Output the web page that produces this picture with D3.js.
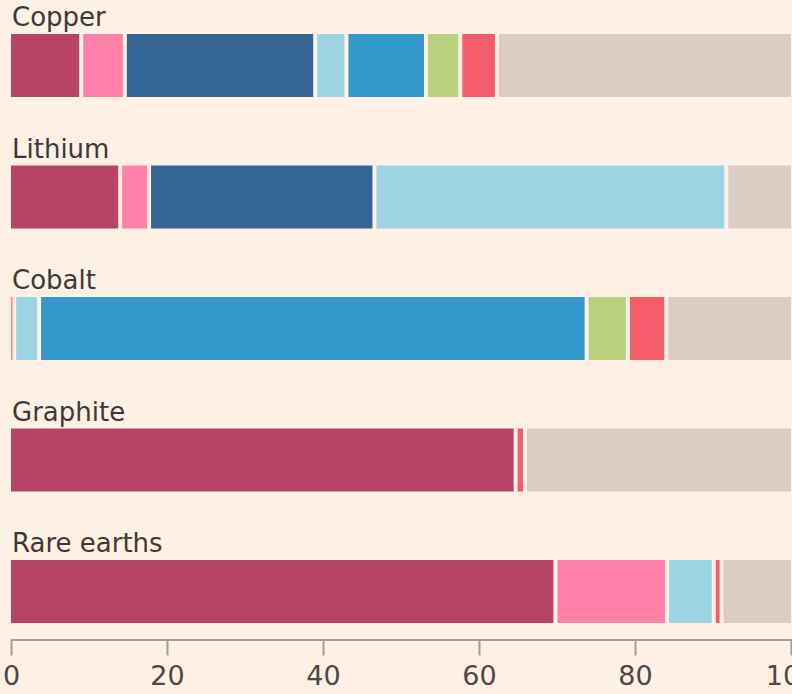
<!DOCTYPE html>
<html>
<head>
<meta charset="utf-8">
<script src="https://cdn.jsdelivr.net/npm/d3@7"></script>
<style>
  html, body { margin: 0; padding: 0; background: #fff1e5; }
  svg { display: block; }
</style>
</head>
<body>
<script>
var WIDTH = 792, HEIGHT = 694;

// minerals, top to bottom
var minerals = ["Copper", "Lithium", "Cobalt", "Graphite", "Rare earths"];

// share of production (%) per producer, same order as minerals
var producers = ["China", "US", "Chile", "Australia", "DR Congo", "Indonesia", "Russia", "Other"];
var china     = [9.0, 14.0, 0,    64.7, 69.8];
var us        = [5.6, 3.7,  0.4,  0,    14.3];
var chile     = [24.4, 28.9, 0,   0,    0];
var australia = [4.0, 45.1, 3.2,  0,    6.0];
var drCongo   = [10.2, 0,   70.2, 0,    0];
var indonesia = [4.4, 0,    5.3,  0,    0];
var russia    = [4.7, 0,    4.9,  1.2,  1.0];
var other     = [37.7, 8.3, 16.0, 34.1, 8.9];

var colours = ["#b74467", "#ff80a8", "#356593", "#9dd4e3", "#3498cd", "#b9d17f", "#f55d6a", "#dbcdc3"];
var xTicks = [0, 20, 40, 60, 80, 100];

var seriesValues = [china, us, chile, australia, drCongo, indonesia, russia, other];

// build rows for the stack
var rows = minerals.map(function(m, i) {
  var row = { mineral: m };
  producers.forEach(function(p, j) { row[p] = seriesValues[j][i]; });
  return row;
});

var stacked = d3.stack().keys(producers)(rows);

var x = d3.scaleLinear().domain([0, 100]).range([11, 791]);
var y = d3.scaleBand().domain(minerals).range([34, 34 + 131.5 * minerals.length]);
var BAR_H = 63;
var GAP = 2; // half of the gap between segments
var FONT = "'DejaVu Sans', Verdana, sans-serif";

var svg = d3.select("body").append("svg")
  .attr("width", WIDTH)
  .attr("height", HEIGHT);

var colour = d3.scaleOrdinal().domain(producers).range(colours);

svg.selectAll("g.layer")
  .data(stacked)
  .enter().append("g")
  .attr("class", "layer")
  .attr("fill", function(d) { return colour(d.key); })
  .selectAll("rect")
  .data(function(d) { return d.filter(function(s) { return s[1] - s[0] > 0; }); })
  .enter().append("rect")
  .attr("x", function(d) { return x(d[0]) + (d[0] > 0 ? GAP : 0); })
  .attr("y", function(d) { return y(d.data.mineral); })
  .attr("height", BAR_H)
  .attr("width", function(d) {
    var x0 = x(d[0]) + (d[0] > 0 ? GAP : 0);
    var x1 = x(d[1]) - (d[1] < 99.95 ? GAP : 0);
    return Math.max(x1 - x0, 1.6);
  });

// mineral labels above each bar
svg.selectAll("text.label")
  .data(minerals)
  .enter().append("text")
  .attr("class", "label")
  .attr("x", 12)
  .attr("y", function(d) { return y(d) - 8; })
  .style("font-family", FONT)
  .style("font-size", "26px")
  .style("fill", "#3d3936")
  .text(function(d) { return d; });

// x axis
var axis = svg.append("g")
  .attr("transform", "translate(0,639.5)")
  .call(d3.axisBottom(x).tickValues(xTicks).tickSize(16).tickSizeOuter(0).tickPadding(10));

axis.select(".domain").attr("stroke", "#a39d97").attr("stroke-width", 2);
axis.selectAll(".tick line").attr("stroke", "#a39d97").attr("stroke-width", 2);
axis.selectAll(".tick text")
  .style("font-family", FONT)
  .style("font-size", "27px")
  .attr("fill", "#4d4845");
</script>
</body>
</html>
